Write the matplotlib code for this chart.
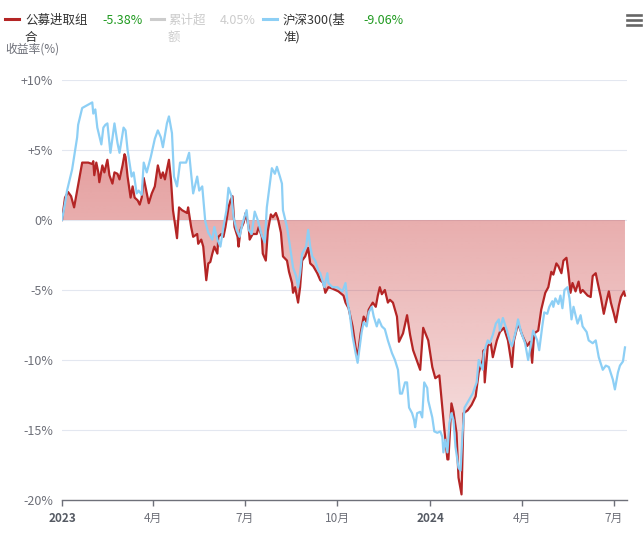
import matplotlib
matplotlib.use('Agg')
import matplotlib.pyplot as plt
import matplotlib.dates as mdates
import numpy as np
import pandas as pd
from matplotlib.lines import Line2D

plt.rcParams['font.family'] = ['Noto Sans CJK SC', 'DejaVu Sans']

# ---------------- data ----------------
port_dates = [
    "2023-01-01","2023-01-04","2023-01-07","2023-01-10","2023-01-13","2023-01-16","2023-01-18","2023-01-21",
    "2023-01-27","2023-01-31","2023-02-01","2023-02-02","2023-02-04","2023-02-06","2023-02-07","2023-02-10",
    "2023-02-12","2023-02-15","2023-02-17","2023-02-20","2023-02-22","2023-02-25","2023-02-27","2023-03-02",
    "2023-03-04","2023-03-05","2023-03-07","2023-03-10","2023-03-12","2023-03-14","2023-03-17","2023-03-19",
    "2023-03-21","2023-03-23","2023-03-26","2023-03-28","2023-03-31","2023-04-03","2023-04-06","2023-04-09",
    "2023-04-11","2023-04-13","2023-04-15","2023-04-17","2023-04-19","2023-04-21","2023-04-25","2023-04-27",
    "2023-04-30","2023-05-05","2023-05-06","2023-05-09","2023-05-11","2023-05-15","2023-05-16","2023-05-19",
    "2023-05-21","2023-05-24","2023-05-26","2023-05-28","2023-05-30","2023-06-01","2023-06-04","2023-06-05",
    "2023-06-08","2023-06-10","2023-06-12","2023-06-15","2023-06-17","2023-06-19","2023-06-21","2023-06-24",
    "2023-06-25","2023-06-27","2023-06-30","2023-07-02","2023-07-05","2023-07-06","2023-07-09","2023-07-13",
    "2023-07-15","2023-07-18","2023-07-19","2023-07-22","2023-07-24","2023-07-27","2023-07-29","2023-08-01",
    "2023-08-03","2023-08-06","2023-08-08","2023-08-12","2023-08-14","2023-08-17","2023-08-18","2023-08-20",
    "2023-08-23","2023-08-25","2023-08-27","2023-08-30","2023-09-02","2023-09-04","2023-09-07","2023-09-11",
    "2023-09-14","2023-09-17","2023-09-19","2023-09-22","2023-09-26","2023-10-02","2023-10-07","2023-10-09",
    "2023-10-12","2023-10-16","2023-10-19","2023-10-21","2023-10-24","2023-10-27","2023-10-30","2023-11-01",
    "2023-11-05","2023-11-08","2023-11-10","2023-11-12","2023-11-14","2023-11-17","2023-11-20","2023-11-22",
    "2023-11-25","2023-11-29","2023-12-01","2023-12-05","2023-12-09","2023-12-12","2023-12-15","2023-12-19",
    "2023-12-22","2023-12-25","2023-12-30","2024-01-03","2024-01-06","2024-01-10","2024-01-13","2024-01-15",
    "2024-01-18","2024-01-19","2024-01-22","2024-01-24","2024-01-27","2024-01-29","2024-02-01","2024-02-03",
    "2024-02-07","2024-02-11","2024-02-15","2024-02-18","2024-02-22","2024-02-23","2024-02-24","2024-02-27",
    "2024-03-01","2024-03-03","2024-03-07","2024-03-09","2024-03-10","2024-03-14","2024-03-18","2024-03-22",
    "2024-03-24","2024-03-28","2024-04-01","2024-04-06","2024-04-09","2024-04-11","2024-04-13","2024-04-17",
    "2024-04-20","2024-04-24","2024-04-27","2024-04-30","2024-05-02","2024-05-05","2024-05-07","2024-05-10",
    "2024-05-12","2024-05-15","2024-05-17","2024-05-19","2024-05-21","2024-05-24","2024-05-27","2024-05-29",
    "2024-05-31","2024-06-05","2024-06-08","2024-06-10","2024-06-13","2024-06-15","2024-06-18","2024-06-21",
    "2024-06-24","2024-06-26","2024-06-28","2024-07-01","2024-07-03","2024-07-06","2024-07-08","2024-07-11",
    "2024-07-12",
]
port_values = [
    0.0, 1.6, 2.0, 1.7, 0.9, 2.1, 2.9, 4.1,
    4.1, 4.0, 4.2, 3.2, 4.1, 3.4, 2.7, 3.9,
    3.4, 4.3, 3.2, 2.6, 3.4, 3.3, 2.9, 3.9,
    4.7, 4.5, 3.1, 1.6, 2.4, 1.6, 1.4, 1.1,
    1.6, 3.0, 1.9, 1.2, 1.9, 2.4, 3.9, 3.0,
    3.4, 2.9, 3.6, 4.3, 2.9, 0.7, -1.3, 0.9,
    0.7, 0.5, 0.9, -0.5, -1.2, -1.0, -1.7, -1.4,
    -1.9, -4.3, -3.1, -3.0, -2.4, -1.9, -2.4, -1.2,
    -1.0, -1.2, -0.5, 0.9, 1.4, 1.7, -0.5, -1.2,
    -1.9, -0.7, -0.2, 0.5, -0.5, -1.4, -1.0, -1.0,
    -0.5, -1.2, -2.4, -2.9, -0.8, 0.4, 0.2, 0.5,
    0.1, -0.9, -2.6, -2.9, -3.7, -4.5, -5.2, -4.8,
    -5.9, -4.8, -2.9, -2.6, -2.0, -3.1, -3.3, -3.8,
    -4.3, -4.5, -5.2, -4.8, -4.9, -5.1, -5.4, -5.9,
    -6.3, -7.6, -9.1, -9.8, -8.1, -6.9, -7.3, -6.4,
    -5.9, -6.2, -5.4, -4.8, -5.3, -5.0, -5.9, -5.7,
    -5.9, -6.9, -8.7, -8.1, -6.8, -8.2, -9.3, -10.1,
    -10.7, -7.7, -8.6, -10.5, -11.3, -11.1, -13.4, -15.0,
    -17.1, -17.1, -13.1, -13.7, -15.2, -18.4, -19.6, -13.8,
    -13.6, -13.2, -12.6, -10.9, -10.0, -9.3, -11.6, -9.0,
    -8.8, -9.8, -8.6, -8.2, -8.0, -7.7, -8.6, -10.5,
    -8.6, -7.4, -8.2, -9.0, -8.7, -10.2, -8.1, -7.9,
    -6.4, -5.2, -4.8, -3.7, -3.9, -3.1, -3.3, -3.8,
    -2.9, -2.7, -3.8, -5.2, -4.5, -5.1, -4.4, -5.2,
    -5.0, -5.4, -5.5, -4.0, -3.8, -4.5, -5.5, -6.7,
    -5.7, -5.1, -5.9, -6.7, -7.3, -6.1, -5.5, -5.1,
    -5.4,
]

bench_dates = [
    "2023-01-01","2023-01-04","2023-01-06","2023-01-11","2023-01-16","2023-01-17","2023-01-21","2023-01-26",
    "2023-01-31","2023-02-01","2023-02-03","2023-02-05","2023-02-09","2023-02-11","2023-02-13","2023-02-15",
    "2023-02-18","2023-02-22","2023-02-25","2023-02-27","2023-03-03","2023-03-05","2023-03-07","2023-03-11",
    "2023-03-13","2023-03-16","2023-03-18","2023-03-21","2023-03-23","2023-03-26","2023-03-30","2023-04-03",
    "2023-04-06","2023-04-09","2023-04-11","2023-04-15","2023-04-17","2023-04-20","2023-04-22","2023-04-25",
    "2023-04-28","2023-05-04","2023-05-07","2023-05-09","2023-05-11","2023-05-15","2023-05-17","2023-05-20",
    "2023-05-23","2023-05-26","2023-05-30","2023-06-01","2023-06-04","2023-06-07","2023-06-10","2023-06-13",
    "2023-06-15","2023-06-18","2023-06-20","2023-06-23","2023-06-26","2023-06-29","2023-07-03","2023-07-05",
    "2023-07-08","2023-07-11","2023-07-14","2023-07-18","2023-07-21","2023-07-23","2023-07-26","2023-07-28",
    "2023-07-31","2023-08-02","2023-08-05","2023-08-07","2023-08-08","2023-08-12","2023-08-15","2023-08-18",
    "2023-08-21","2023-08-23","2023-08-25","2023-08-27","2023-08-31","2023-09-02","2023-09-04","2023-09-06",
    "2023-09-09","2023-09-12","2023-09-14","2023-09-16","2023-09-18","2023-09-21","2023-09-22","2023-09-26",
    "2023-10-01","2023-10-06","2023-10-09","2023-10-11","2023-10-13","2023-10-16","2023-10-19","2023-10-21",
    "2023-10-23","2023-10-25","2023-10-27","2023-10-30","2023-11-01","2023-11-04","2023-11-06","2023-11-09",
    "2023-11-11","2023-11-14","2023-11-17","2023-11-20","2023-11-24","2023-11-27","2023-11-30","2023-12-02",
    "2023-12-04","2023-12-07","2023-12-09","2023-12-11","2023-12-14","2023-12-16","2023-12-17","2023-12-19",
    "2023-12-22","2023-12-24","2023-12-26","2023-12-29","2023-12-30","2024-01-03","2024-01-05","2024-01-08",
    "2024-01-11","2024-01-13","2024-01-14","2024-01-16","2024-01-18","2024-01-20","2024-01-22","2024-01-24",
    "2024-01-26","2024-01-29","2024-01-31","2024-02-02","2024-02-04","2024-02-08","2024-02-12","2024-02-16",
    "2024-02-18","2024-02-22","2024-02-23","2024-02-27","2024-02-29","2024-03-03","2024-03-06","2024-03-09",
    "2024-03-10","2024-03-13","2024-03-17","2024-03-20","2024-03-22","2024-03-26","2024-03-28","2024-03-31",
    "2024-04-04","2024-04-07","2024-04-10","2024-04-12","2024-04-16","2024-04-18","2024-04-21","2024-04-23",
    "2024-04-26","2024-04-28","2024-05-01","2024-05-02","2024-05-04","2024-05-07","2024-05-09","2024-05-11",
    "2024-05-13","2024-05-16","2024-05-18","2024-05-20","2024-05-22","2024-05-26","2024-05-29","2024-05-31",
    "2024-06-04","2024-06-06","2024-06-10","2024-06-13","2024-06-16","2024-06-20","2024-06-23","2024-06-26",
    "2024-06-30","2024-07-02","2024-07-05","2024-07-07","2024-07-10","2024-07-12",
]
bench_values = [
    0.0, 1.2, 2.1, 3.6, 5.9, 6.8, 8.0, 8.2,
    8.4, 7.6, 7.9, 6.6, 5.4, 6.6, 6.8, 6.9,
    4.8, 6.9, 5.5, 4.8, 6.6, 6.4, 5.0, 3.1,
    3.4, 1.9, 2.1, 1.8, 4.1, 3.4, 4.5, 5.8,
    6.4, 5.9, 5.2, 6.9, 7.4, 6.2, 3.1, 2.4,
    4.1, 4.1, 4.8, 3.3, 1.9, 3.1, 2.1, 2.4,
    -0.1, -0.9, -1.4, -0.5, -1.4, -1.9, -0.5, 0.7,
    2.3, 1.7, 0.2, -0.7, -1.2, -0.2, 0.7, -0.7,
    -1.0, 0.6, 0.0, -1.1, -1.6, 0.9, 2.6, 3.7,
    3.3, 3.8, 3.1, 2.6, 0.7, -0.5, -1.9, -3.4,
    -4.0, -4.8, -3.8, -2.4, -1.9, -0.7, -1.9, -2.6,
    -2.9, -3.6, -3.8, -4.3, -4.8, -3.8, -4.5, -4.8,
    -4.8, -5.1, -4.5, -5.9, -6.6, -8.3, -9.5, -10.2,
    -9.1, -8.0, -7.3, -7.6, -6.6, -6.2, -6.9, -7.6,
    -7.1, -7.6, -7.8, -8.6, -9.5, -10.0, -10.7, -12.4,
    -12.4, -11.6, -11.6, -13.4, -13.8, -14.3, -14.8, -13.8,
    -13.7, -14.1, -11.6, -12.0, -12.9, -14.1, -15.1, -15.2,
    -15.1, -15.5, -16.6, -15.7, -16.6, -14.5, -13.8, -14.3,
    -16.2, -17.7, -17.9, -15.2, -13.4, -12.9, -12.4, -11.6,
    -10.0, -10.7, -9.5, -8.6, -8.8, -8.2, -7.4, -7.1,
    -7.9, -7.0, -7.9, -8.7, -9.0, -7.9, -7.1, -8.0,
    -8.8, -10.0, -8.8, -7.9, -8.6, -9.3, -7.6, -6.6,
    -6.7, -6.2, -5.8, -6.2, -5.6, -6.0, -5.4, -6.3,
    -5.0, -4.8, -5.6, -7.1, -6.2, -7.4, -6.8, -7.6,
    -8.0, -8.6, -8.8, -8.6, -9.8, -10.7, -10.4, -10.5,
    -11.4, -12.1, -10.9, -10.4, -10.1, -9.1,
]

legend_names = ["公募进取组\n合", "累计超\n额", "沪深300(基\n准)"]
legend_values = ["-5.38%", "4.05%", "-9.06%"]
y_axis_title = "收益率(%)"
x_tick_dates = ["2023-01-01", "2023-04-01", "2023-07-01", "2023-10-01",
                "2024-01-01", "2024-04-01", "2024-07-01"]
x_tick_labels = ["2023", "4月", "7月", "10月", "2024", "4月", "7月"]
y_ticks = [10, 5, 0, -5, -10, -15, -20]
y_tick_labels = ["+10%", "+5%", "0%", "-5%", "-10%", "-15%", "-20%"]

# ---------------- styling ----------------
W, H = 644, 548
RED = "#b42525"
BLUE = "#8dcff5"
GRAY_TXT = "#6e7079"
GREEN = "#1f9a1f"

fig = plt.figure(figsize=(W / 100, H / 100), dpi=100)
ax = fig.add_axes([62 / W, 48 / H, 565 / W, 420 / H])

pdt = pd.to_datetime(port_dates)
bdt = pd.to_datetime(bench_dates)
xmin, xmax = pd.Timestamp("2023-01-01"), pd.Timestamp("2024-07-14")

for y in y_ticks[:-1]:
    ax.axhline(y, color="#e3e7f0", lw=0.8, zorder=0)

# gradient area between portfolio curve and zero
fb = ax.fill_between(pdt, port_values, 0, facecolor="none", edgecolor="none")
clip = fb.get_paths()[0]
n = 256
t = np.linspace(0, 1, n)[:, None]
grad = np.zeros((n, 1, 4))
grad[..., 0] = 200 / 255
grad[..., 1] = 55 / 255
grad[..., 2] = 55 / 255
grad[..., 3] = 0.50 - 0.40 * t
x0, x1 = mdates.date2num(xmin), mdates.date2num(xmax)
im = ax.imshow(grad, extent=[x0, x1, -20, 6], aspect="auto", origin="upper",
               zorder=1, interpolation="bilinear")
im.set_clip_path(clip, transform=ax.transData)

ax.plot(pdt, port_values, color=RED, lw=1.6, zorder=3, solid_joinstyle="round")
ax.plot(bdt, bench_values, color=BLUE, lw=1.6, zorder=4, solid_joinstyle="round")

ax.set_xlim(xmin, xmax)
ax.set_ylim(-20, 10)

for s in ["top", "right", "left"]:
    ax.spines[s].set_visible(False)
ax.spines["bottom"].set_color(GRAY_TXT)
ax.spines["bottom"].set_linewidth(1.0)
ax.spines["bottom"].set_zorder(5)

ax.set_yticks(y_ticks)
ax.set_yticklabels(y_tick_labels)
ax.tick_params(axis="y", length=0, pad=6.5, labelsize=9, labelcolor=GRAY_TXT)

ax.set_xticks(pd.to_datetime(x_tick_dates))
ax.set_xticklabels(x_tick_labels)
ax.tick_params(axis="x", length=4, width=1, color=GRAY_TXT, pad=4.5,
               labelsize=8.5, labelcolor=GRAY_TXT)
for lbl in ax.get_xticklabels():
    if lbl.get_text().isdigit():
        lbl.set_fontweight("bold")
        lbl.set_color("#555a63")

# ---------------- legend ----------------
def fx(x):
    return x / W

def fy(y):
    return 1 - y / H

legend_line_colors = [RED, "#cccccc", BLUE]
legend_name_colors = ["#333333", "#cccccc", "#333333"]
legend_val_colors = [GREEN, "#cccccc", GREEN]
line_x = [(5, 19), (151, 164), (263, 277)]
name_x = [25, 168, 283]
val_x = [102, 220, 363]
for i in range(3):
    fig.add_artist(Line2D([fx(line_x[i][0]), fx(line_x[i][1])], [fy(19), fy(19)],
                          color=legend_line_colors[i], lw=2.2, transform=fig.transFigure))
    parts = legend_names[i].split("\n")
    fig.text(fx(name_x[i]), fy(20), parts[0], fontsize=9, color=legend_name_colors[i],
             ha="left", va="center")
    fig.text(fx(name_x[i]), fy(37), parts[1], fontsize=9, color=legend_name_colors[i],
             ha="left", va="center")
    fig.text(fx(val_x[i]), fy(20), legend_values[i], fontsize=9, color=legend_val_colors[i],
             ha="left", va="center")

fig.text(fx(5), fy(49), y_axis_title, fontsize=8.5, color=GRAY_TXT, ha="left", va="center")

# menu icon
for yy in (15, 20, 25):
    fig.add_artist(Line2D([fx(627), fx(641)], [fy(yy), fy(yy)], color="#666666", lw=1.9,
                          transform=fig.transFigure))

fig.savefig("out.png", dpi=100)
